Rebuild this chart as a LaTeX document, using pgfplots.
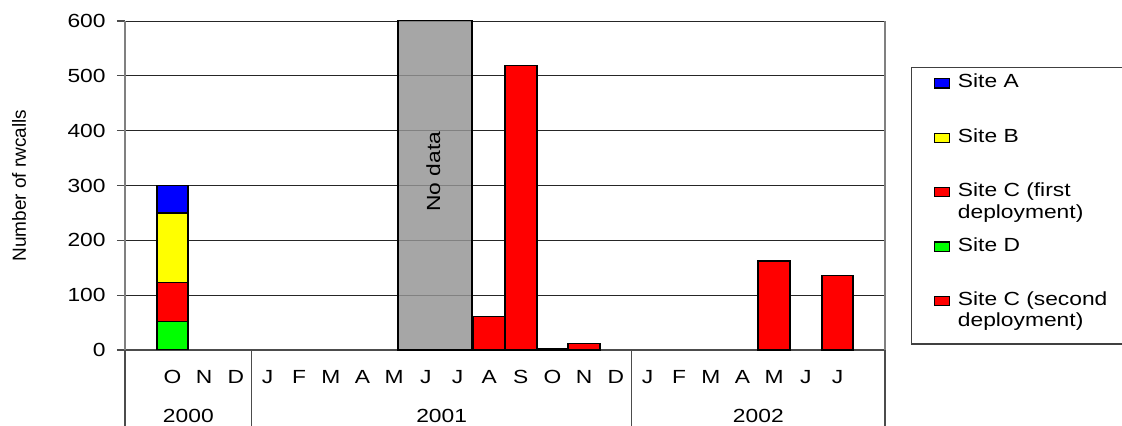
\documentclass[border=0pt]{standalone}
\usepackage{pgfplots}
\pgfplotsset{compat=1.18}
\usepackage{fontspec}
\setmainfont{Liberation Sans}[FakeStretch=1.2]
\newfontfamily\labelfont{Liberation Sans}

\definecolor{siteA}{RGB}{0,0,255}
\definecolor{siteB}{RGB}{255,255,0}
\definecolor{siteC}{RGB}{255,0,0}
\definecolor{siteD}{RGB}{0,255,0}
\definecolor{nodata}{RGB}{148,148,148}

\newcommand{\tickfont}{\fontsize{9.5}{11}\selectfont}
% legend row of fixed height and depth, with an optional second line below
\newcommand{\lrow}[2][16.9pt]{\raisebox{0pt}[10.3pt][#1]{\makebox[90pt][l]{#2}}}
\newcommand{\secondline}[1]{\smash{\rlap{\raisebox{-10.7pt}{#1}}}}

\pgfplotsset{
  swatch/.style={legend image code/.code={\draw[##1] (0pt,0pt) rectangle (7.5pt,4.6pt);}},
  common/.style={
    width=380pt, height=164.5pt, scale only axis,
    xmin=-0.5, xmax=23.5, ymin=0, ymax=600,
  },
}

\begin{document}
\begin{tikzpicture}
\useasboundingbox (-62.5pt,-38pt) rectangle (498.5pt,175pt);

% Main frame: grid, months, year groups, the no-data block and the second deployment
\begin{axis}[
  common,
  ybar, bar width=1, bar shift=0pt,
  clip=false,
  axis x line*=bottom, axis y line*=box,
  x axis line style={black!70, line width=1pt},
  y axis line style={black!50, line width=0.9pt},
  ytick={0,100,...,600}, ytick pos=left,
  ymajorgrids, major grid style={black!85, line width=0.5pt},
  tick align=outside, major tick length=4pt,
  ytick style={black!70, line width=0.6pt},
  xtick={1,...,22},
  xticklabels={O,N,D,J,F,M,A,M,J,J,A,S,O,N,D,J,F,M,A,M,J,J},
  major x tick style={draw=none},
  minor xtick={-0.5,3.5,15.5,23.5}, minor tick length=38pt,
  minor x tick style={black!70, line width=0.6pt},
  tick label style={font=\tickfont},
  /pgf/number format/assume math mode=true,
  yticklabel style={anchor=east, inner sep=0pt, xshift=-5.5pt},
  xticklabel style={anchor=base, inner sep=0pt, yshift=-12.7pt},
  legend style={
    at={(1.0338,0.861)}, anchor=north west,
    draw=black!75, line width=0.6pt,
    inner xsep=11.2pt, inner ysep=0pt,
    row sep=0pt, column sep=4pt,
    nodes={inner sep=0pt, text depth=, text height=},
    cells={anchor=base west},
    font=\tickfont,
  },
]
\addlegendimage{swatch, fill=siteA, draw=black}
\addlegendentry{\lrow{Site A}}
\addlegendimage{swatch, fill=siteB, draw=black}
\addlegendentry{\lrow{Site B}}
\addlegendimage{swatch, fill=siteC, draw=black}
\addlegendentry{\lrow{\secondline{deployment)}Site C (first}}
\addlegendimage{swatch, fill=siteD, draw=black}
\addlegendentry{\lrow{Site D}}
\addlegendimage{swatch, fill=siteC, draw=black}
\addlegendentry{\lrow[19.2pt]{\secondline{deployment)}Site C (second}}

% Months without recordings
\addplot[sharp plot, forget plot, draw=black, line width=0.9pt,
  fill=nodata, fill opacity=0.83]
  coordinates {(8.11,0) (8.11,601) (10.45,601) (10.45,0)} \closedcycle;

% Site C, second deployment
\addplot[forget plot, fill=siteC, draw=black, line width=0.9pt]
  coordinates {(11,61) (12,519) (13,1.5) (14,12) (20,162) (22,136)};

\node[rotate=90, font=\tickfont] at (axis cs:9.24,325) {No data};
\node[font=\tickfont] at ([yshift=-33pt]axis cs:1.5,0) {2000};
\node[font=\tickfont] at ([yshift=-33pt]axis cs:9.5,0) {2001};
\node[font=\tickfont] at ([yshift=-33pt]axis cs:19.5,0) {2002};
\node[rotate=90, font=\labelfont\fontsize{9.5}{11}\selectfont]
  at (rel axis cs:-0.1395,0.5) {Number of rwcalls};
\end{axis}

% October 2000: all four sites stacked
\begin{axis}[
  common, hide axis,
  ybar stacked, bar width=1,
]
\addplot[fill=siteD, draw=black, line width=0.9pt] coordinates {(1,52)};
\addplot[fill=siteC, draw=black, line width=0.9pt] coordinates {(1,71)};
\addplot[fill=siteB, draw=black, line width=0.9pt] coordinates {(1,127)};
\addplot[fill=siteA, draw=black, line width=0.9pt] coordinates {(1,50)};
\end{axis}
\end{tikzpicture}
\end{document}
